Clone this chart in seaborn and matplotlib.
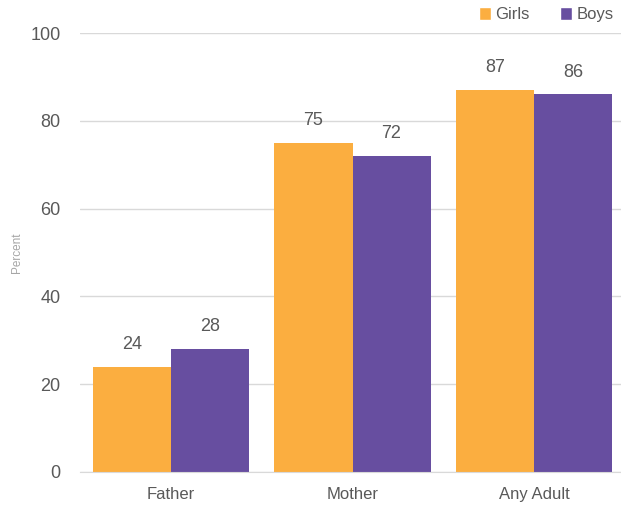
import pandas as pd
import matplotlib
matplotlib.use('Agg')
import matplotlib.pyplot as plt
import seaborn as sns
from matplotlib.patches import Patch

# dados
categorias = ['Father', 'Mother', 'Any Adult']
meninas = [24, 75, 87]
meninos = [28, 72, 86]
grupos = ['Girls', 'Boys']
cores = {'Girls': '#FBAE40', 'Boys': '#674EA0'}

df = pd.DataFrame({
    'categoria': categorias * 2,
    'valor': meninas + meninos,
    'grupo': ['Girls'] * 3 + ['Boys'] * 3,
})

sns.set_style('white')
plt.rcParams['font.family'] = ['Liberation Sans', 'DejaVu Sans']
texto = '#595959'

fig = plt.figure(figsize=(6.21, 5.07), dpi=100)
ax = fig.add_axes([80 / 621, 1 - 472 / 507, 545 / 621, (472 - 33) / 507])

sns.barplot(data=df, x='categoria', y='valor', hue='grupo', order=categorias,
            hue_order=grupos, palette=cores, width=0.86, gap=0,
            saturation=1, linewidth=0, ax=ax, legend=False)

for cont in ax.containers:
    ax.bar_label(cont, padding=10, fontsize=13, color=texto)

ax.set_ylim(0, 100)
ax.set_xlim(-0.5, 2.5)
ax.set_yticks([0, 20, 40, 60, 80, 100])
ax.yaxis.grid(True, color='#D9D9D9', linewidth=1)
ax.set_axisbelow(True)
for lado in ['top', 'right', 'left']:
    ax.spines[lado].set_visible(False)
ax.spines['bottom'].set_color('#D9D9D9')
ax.tick_params(axis='y', length=0, labelsize=13, labelcolor=texto, pad=14)
ax.tick_params(axis='x', length=0, labelsize=12, labelcolor=texto, pad=11)
ax.set_xlabel('')
ax.set_ylabel('Percent', fontsize=8.5, color='#A6A6A6', labelpad=4)
ax.yaxis.set_label_coords(-0.105, 0.5)

alcas = [Patch(facecolor=cores[g], label=g) for g in grupos]
fig.legend(handles=alcas, loc='upper right', bbox_to_anchor=(1.012, 1.015), ncol=2,
           frameon=False, fontsize=12, labelcolor=texto, handlelength=0.75,
           handleheight=0.75, handletextpad=0.25, columnspacing=1.8)

fig.savefig('out.png', dpi=100)
